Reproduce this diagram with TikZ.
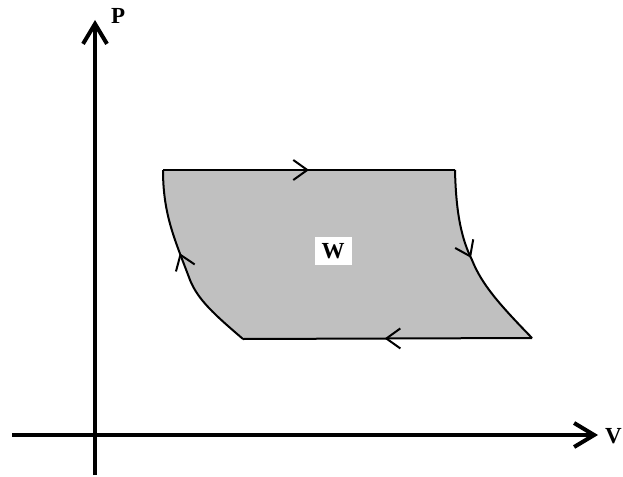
\documentclass[tikz,border=0pt]{standalone}
\usepackage{fontspec}
\setmainfont{Liberation Serif}
\usetikzlibrary{arrows.meta,decorations.markings}
\tikzset{
  axis/.style={line width=4pt,-{Straight Barb[length=20pt,width=24pt,line width=4pt]}},
  edge/.style={line width=2pt,postaction={decorate},
    decoration={markings,mark=at position #1 with {\arrow{Straight Barb[length=14pt,width=20pt,line width=2pt]}}}},
  lbl/.style={font=\bfseries\fontsize{23}{23}\selectfont,inner sep=0pt}
}
\definecolor{area}{RGB}{192,192,192}
\begin{document}
\begin{tikzpicture}[x=1pt,y=-1pt]
\useasboundingbox (0,0) rectangle (623,476);
% shaded area
\fill[area] (163,170) -- (455,170)
  .. controls (456,215) and (462,240) .. (472,260)
  .. controls (482,285) and (500,305) .. (532,338)
  -- (243,339)
  .. controls (215,315) and (198,300) .. (190,280)
  .. controls (175,240) and (163,215) .. cycle;
% edges
\draw[edge=0.5] (163,170) -- (455,170);
\draw[edge=0.47] (455,170)
  .. controls (456,215) and (462,240) .. (472,260)
  .. controls (482,285) and (500,305) .. (532,338);
\draw[edge=0.51] (532,338) -- (243,339);
\draw[edge=0.56] (243,339)
  .. controls (215,315) and (198,300) .. (190,280)
  .. controls (175,240) and (163,215) .. (163,170);
% axes
\coordinate (vbot) at (95,475);
\coordinate (vtop) at (95,20);
\coordinate (hl) at (12,435);
\coordinate (hr) at (598,435);
\draw[axis] (vbot) -- (vtop);
\draw[axis] (hl) -- (hr);
\node[lbl,anchor=west] (P) at (111,16) {P};
\node[lbl,anchor=west] (V) at (605,436) {V};
\node[lbl,fill=white,minimum width=37pt,minimum height=28pt] (W) at (333,251) {W};
\end{tikzpicture}
\end{document}
